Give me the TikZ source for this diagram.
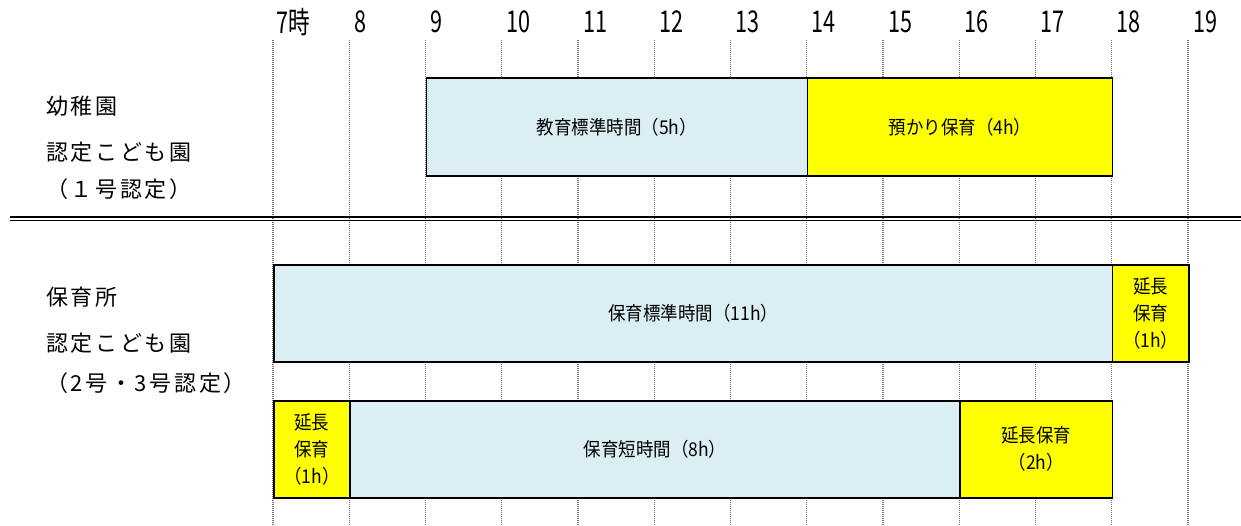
\documentclass[tikz,border=0pt]{standalone}
\usepackage{fontspec}
\setmainfont{Noto Sans CJK JP}
\newfontfamily\jpl[LetterSpace=12]{Noto Sans CJK JP}
\newfontfamily\jpn[FakeStretch=0.72]{Noto Sans CJK JP}
\newfontfamily\jpb[FakeStretch=0.92]{Noto Sans CJK JP}
\definecolor{lblue}{HTML}{DAEEF3}
\definecolor{yel}{HTML}{FFFF00}
\begin{document}
\begin{tikzpicture}[x=1pt,y=-1pt,
  grid/.style={draw=gray!90!black, line width=1.4pt, dash pattern=on 1pt off 1pt},
  boxbase/.style={draw=black, line width=1.6pt, anchor=north west, inner sep=0pt, align=center,
    font=\jpb\fontsize{19}{27}\selectfont},
  bluebox/.style={boxbase, fill=lblue},
  yelbox/.style={boxbase, fill=yel},
  hour/.style={anchor=west, inner sep=0pt, font=\jpn\fontsize{30}{30}\selectfont},
  lab/.style={anchor=west, inner sep=0pt, font=\jpl\fontsize{22}{22}\selectfont}]
\useasboundingbox (0,0) rectangle (1241,526);
\def\hx#1{273+(#1-7)*76.25}
% grid lines
\foreach \h in {7,...,19}{
  \draw[grid] ({\hx{\h}},40) -- ({\hx{\h}},526);
}
% hour labels
\node[hour] (h7) at ({\hx{7}+3},22) {7時};
\foreach \h in {8,...,19}{
  \node[hour] (h\h) at ({\hx{\h}+5},22) {\h};
}
% row 1
\node[bluebox, minimum width={5*76.25}, minimum height=98] (kyoiku) at ({\hx{9}},77) {教育標準時間（5h）};
\node[yelbox, minimum width={4*76.25}, minimum height=98] (azukari) at ({\hx{14}},77) {預かり保育（4h）};
% double line
\draw[line width=1.7pt] (10,217) -- (1241,217);
\draw[line width=1.7pt] (10,220.6) -- (1241,220.6);
% row 2
\node[bluebox, minimum width={11*76.25}, minimum height=97] (hyojun) at ({\hx{7}},264) {保育標準時間（11h）};
\node[yelbox, minimum width={76.25}, minimum height=97] (encho1) at ({\hx{18}},264) {延長\\保育\\（1h）};
% row 3
\node[yelbox, minimum width={76.25}, minimum height=97] (encho2) at ({\hx{7}},400) {延長\\保育\\（1h）};
\node[bluebox, minimum width={8*76.25}, minimum height=97] (tanjikan) at ({\hx{8}},400) {保育短時間（8h）};
\node[yelbox, minimum width={2*76.25}, minimum height=97] (encho3) at ({\hx{16}},400) {延長保育\\（2h）};
% left labels
\node[lab] (l1) at (46,106) {幼稚園};
\node[lab] (l2) at (46,152) {認定こども園};
\node[lab] (l3) at (46,189) {（１号認定）};
\node[lab] (l4) at (46,297) {保育所};
\node[lab] (l5) at (46,343) {認定こども園};
\node[lab] (l6) at (46,383) {（2号・3号認定）};
\end{tikzpicture}
\end{document}
